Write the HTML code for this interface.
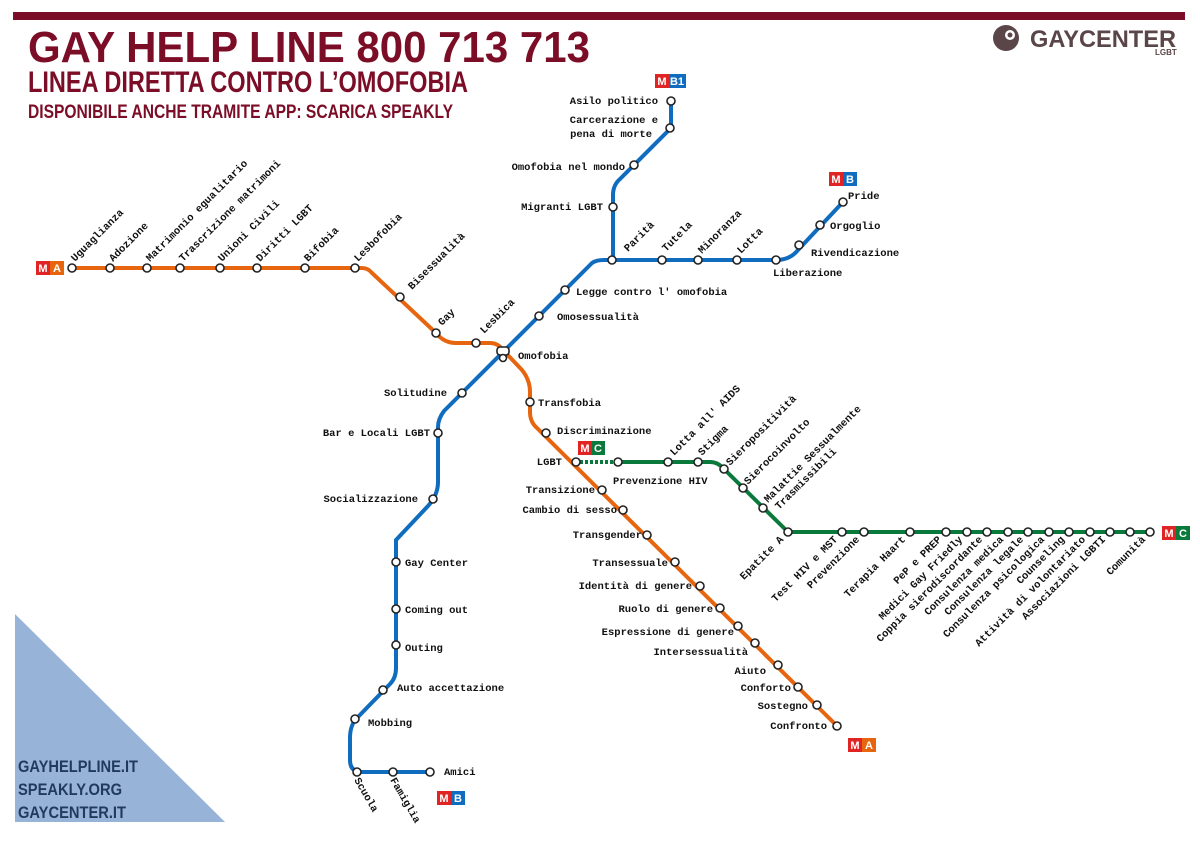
<!DOCTYPE html>
<html><head><meta charset="utf-8"><style>
html,body{margin:0;padding:0;background:#fff;}
svg{display:block}
.l{font-family:"Liberation Mono",monospace;font-size:10.5px;font-weight:bold;fill:#111;}
.e{text-anchor:end}
.h{font-family:"Liberation Sans Narrow","Liberation Sans",sans-serif;font-weight:bold;fill:#7b0d27;}
.s{fill:#fff;stroke:#222;stroke-width:1.6}
.bd{font-family:"Liberation Sans Narrow","Liberation Sans",sans-serif;font-weight:bold;font-size:11px;fill:#fff;text-anchor:middle}
</style></head><body>
<svg width="1200" height="842" viewBox="0 0 1200 842" xmlns="http://www.w3.org/2000/svg">
<rect x="13" y="12" width="1172" height="8" fill="#7b0d27"/>
<text class="h" x="28" y="62" font-size="44" textLength="562" lengthAdjust="spacingAndGlyphs">GAY HELP LINE 800 713 713</text>
<text class="h" x="28" y="92" font-size="30" textLength="440" lengthAdjust="spacingAndGlyphs">LINEA DIRETTA CONTRO L’OMOFOBIA</text>
<text class="h" x="28" y="118" font-size="19" textLength="425" lengthAdjust="spacingAndGlyphs">DISPONIBILE ANCHE TRAMITE APP: SCARICA SPEAKLY</text>
<!-- logo -->
<circle cx="1006" cy="38" r="13" fill="#5a4548"/>
<circle cx="1010" cy="35" r="5" fill="#fff"/><circle cx="1010" cy="35" r="2.5" fill="#5a4548"/>
<text x="1030" y="47" font-family="Liberation Sans" font-weight="900" font-size="24" fill="#5a4548" textLength="146" lengthAdjust="spacingAndGlyphs">GAYCENTER</text>
<text x="1155" y="55" font-family="Liberation Sans" font-weight="bold" font-size="8" fill="#5a4548">LGBT</text>
<!-- triangle -->
<polygon points="15,614 15,822 225,822" fill="#97b3d8"/>
<g font-family="Liberation Sans Narrow,Liberation Sans,sans-serif" font-weight="bold" font-size="17" fill="#1f3a5c">
<text x="18" y="772" textLength="120" lengthAdjust="spacingAndGlyphs">GAYHELPLINE.IT</text>
<text x="18" y="795" textLength="104" lengthAdjust="spacingAndGlyphs">SPEAKLY.ORG</text>
<text x="18" y="818" textLength="108" lengthAdjust="spacingAndGlyphs">GAYCENTER.IT</text>
</g>
<!-- lines -->
<g fill="none" stroke-width="4" stroke-linejoin="round">
<path stroke="#e8650f" d="M72,268 H362 Q368,268 372,273 L436,333 Q444,343 456,343 H490 Q498,343 503,350 L522,370 Q530,380 530,392 V412 Q530,422 537,428 L837,726"/>
<path stroke="#0f6cbf" d="M430,772 H362 Q350,772 350,760 V738 Q350,726 356,719 L390,684 Q396,678 396,668 V540 L428,506 Q438,495 438,482 V427 Q438,419 444,411 L592,263 Q596,260 604,260 H776 Q790,260 798,250 L843,202"/>
<path stroke="#0f6cbf" d="M613,260 V195 Q613,185 620,179 L671,128 V101"/>
<path stroke="#0a7a3c" d="M618,462 H710 Q718,462 724,469 L788,532 H1150"/>
<path stroke="#0a7a3c" stroke-dasharray="3,2" d="M580,462 H618"/>
</g>
<!-- stations -->
<g class="s">
<circle cx="72" cy="268" r="4"/><circle cx="110" cy="268" r="4"/><circle cx="147" cy="268" r="4"/><circle cx="180" cy="268" r="4"/><circle cx="220" cy="268" r="4"/><circle cx="257" cy="268" r="4"/><circle cx="305" cy="268" r="4"/><circle cx="355" cy="268" r="4"/>
<circle cx="400" cy="297" r="4"/><circle cx="436" cy="333" r="4"/><circle cx="476" cy="343" r="4"/>
<rect x="497" y="347" width="12" height="8" rx="3"/><circle cx="503" cy="358" r="3.5"/>
<circle cx="530" cy="402" r="4"/><circle cx="546" cy="433" r="4"/><circle cx="576" cy="462" r="4"/><circle cx="602" cy="490" r="4"/><circle cx="623" cy="510" r="4"/><circle cx="647" cy="535" r="4"/><circle cx="675" cy="562" r="4"/><circle cx="700" cy="586" r="4"/><circle cx="720" cy="608" r="4"/><circle cx="738" cy="626" r="4"/><circle cx="755" cy="643" r="4"/><circle cx="778" cy="665" r="4"/><circle cx="798" cy="687" r="4"/><circle cx="817" cy="705" r="4"/><circle cx="837" cy="726" r="4"/>
<circle cx="357" cy="772" r="4"/><circle cx="393" cy="772" r="4"/><circle cx="430" cy="772" r="4"/><circle cx="355" cy="719" r="4"/><circle cx="383" cy="690" r="4"/><circle cx="396" cy="645" r="4"/><circle cx="396" cy="609" r="4"/><circle cx="396" cy="562" r="4"/><circle cx="433" cy="499" r="4"/><circle cx="438" cy="433" r="4"/><circle cx="462" cy="393" r="4"/><circle cx="539" cy="316" r="4"/><circle cx="565" cy="290" r="4"/>
<circle cx="612" cy="260" r="4"/><circle cx="662" cy="260" r="4"/><circle cx="698" cy="260" r="4"/><circle cx="737" cy="260" r="4"/><circle cx="776" cy="260" r="4"/><circle cx="799" cy="245" r="4"/><circle cx="820" cy="225" r="4"/><circle cx="843" cy="202" r="4"/>
<circle cx="613" cy="207" r="4"/><circle cx="634" cy="165" r="4"/><circle cx="670" cy="128" r="4"/><circle cx="671" cy="101" r="4"/>
<circle cx="618" cy="462" r="4"/><circle cx="668" cy="462" r="4"/><circle cx="698" cy="462" r="4"/><circle cx="724" cy="469" r="4"/><circle cx="743" cy="488" r="4"/><circle cx="763" cy="508" r="4"/><circle cx="788" cy="532" r="4"/>
<circle cx="842" cy="532" r="4"/><circle cx="864" cy="532" r="4"/><circle cx="910" cy="532" r="4"/><circle cx="946" cy="532" r="4"/><circle cx="967" cy="532" r="4"/><circle cx="987" cy="532" r="4"/><circle cx="1008" cy="532" r="4"/><circle cx="1028" cy="532" r="4"/><circle cx="1049" cy="532" r="4"/><circle cx="1069" cy="532" r="4"/><circle cx="1090" cy="532" r="4"/><circle cx="1110" cy="532" r="4"/><circle cx="1130" cy="532" r="4"/><circle cx="1150" cy="532" r="4"/>
</g>
<!-- badges -->
<g>
<rect x="36" y="261" width="14" height="14" fill="#e02424"/><rect x="50" y="261" width="14" height="14" fill="#e8650f"/><text class="bd" x="43" y="272">M</text><text class="bd" x="57" y="272">A</text>
<rect x="848" y="738" width="14" height="14" fill="#e02424"/><rect x="862" y="738" width="14" height="14" fill="#e8650f"/><text class="bd" x="855" y="749">M</text><text class="bd" x="869" y="749">A</text>
<rect x="437" y="791" width="14" height="14" fill="#e02424"/><rect x="451" y="791" width="14" height="14" fill="#0f6cbf"/><text class="bd" x="444" y="802">M</text><text class="bd" x="458" y="802">B</text>
<rect x="829" y="172" width="14" height="14" fill="#e02424"/><rect x="843" y="172" width="14" height="14" fill="#0f6cbf"/><text class="bd" x="836" y="183">M</text><text class="bd" x="850" y="183">B</text>
<rect x="655" y="74" width="14" height="14" fill="#e02424"/><rect x="669" y="74" width="17" height="14" fill="#0f6cbf"/><text class="bd" x="662" y="85">M</text><text class="bd" x="677" y="85">B1</text>
<rect x="578" y="441" width="14" height="14" fill="#e02424"/><rect x="592" y="441" width="13" height="14" fill="#0a7a3c"/><text class="bd" x="585" y="452">M</text><text class="bd" x="598" y="452">C</text>
<rect x="1162" y="526" width="14" height="14" fill="#e02424"/><rect x="1176" y="526" width="14" height="14" fill="#0a7a3c"/><text class="bd" x="1169" y="537">M</text><text class="bd" x="1183" y="537">C</text>
</g>
<!-- labels -->
<g class="l">
<text transform="translate(75,262) rotate(-45)">Uguaglianza</text>
<text transform="translate(113,262) rotate(-45)">Adozione</text>
<text transform="translate(150,262) rotate(-45)">Matrimonio egualitario</text>
<text transform="translate(183,262) rotate(-45)">Trascrizione matrimoni</text>
<text transform="translate(222,262) rotate(-45)">Unioni Civili</text>
<text transform="translate(260,262) rotate(-45)">Diritti LGBT</text>
<text transform="translate(308,262) rotate(-45)">Bifobia</text>
<text transform="translate(358,262) rotate(-45)">Lesbofobia</text>
<text transform="translate(412,290) rotate(-45)">Bisessualità</text>
<text transform="translate(442,326) rotate(-45)">Gay</text>
<text transform="translate(484,334) rotate(-45)">Lesbica</text>
<text x="518" y="359">Omofobia</text>
<text x="538" y="406">Transfobia</text>
<text x="557" y="434">Discriminazione</text>
<text class="e" x="562" y="465">LGBT</text>
<text class="e" x="595" y="493">Transizione</text>
<text class="e" x="617" y="513">Cambio di sesso</text>
<text class="e" x="642" y="538">Transgender</text>
<text class="e" x="668" y="566">Transessuale</text>
<text class="e" x="692" y="589">Identità di genere</text>
<text class="e" x="713" y="612">Ruolo di genere</text>
<text class="e" x="734" y="635">Espressione di genere</text>
<text class="e" x="748" y="655">Intersessualità</text>
<text class="e" x="766" y="674">Aiuto</text>
<text class="e" x="791" y="691">Conforto</text>
<text class="e" x="808" y="709">Sostegno</text>
<text class="e" x="827" y="729">Confronto</text>
<text class="e" x="447" y="396">Solitudine</text>
<text class="e" x="430" y="436">Bar e Locali LGBT</text>
<text class="e" x="418" y="502">Socializzazione</text>
<text x="405" y="566">Gay Center</text>
<text x="405" y="613">Coming out</text>
<text x="405" y="651">Outing</text>
<text x="397" y="691">Auto accettazione</text>
<text x="368" y="726">Mobbing</text>
<text x="444" y="775">Amici</text>
<text transform="translate(354,780) rotate(60)">Scuola</text>
<text transform="translate(390,780) rotate(60)">Famiglia</text>
<text x="557" y="320">Omosessualità</text>
<text x="576" y="295">Legge contro l' omofobia</text>
<text transform="translate(628,252) rotate(-45)">Parità</text>
<text transform="translate(666,252) rotate(-45)">Tutela</text>
<text transform="translate(702,254) rotate(-45)">Minoranza</text>
<text transform="translate(741,254) rotate(-45)">Lotta</text>
<text x="773" y="276">Liberazione</text>
<text x="811" y="256">Rivendicazione</text>
<text x="830" y="229">Orgoglio</text>
<text x="848" y="199">Pride</text>
<text class="e" x="603" y="210">Migranti LGBT</text>
<text class="e" x="625" y="170">Omofobia nel mondo</text>
<text class="e" x="658" y="123">Carcerazione e</text>
<text class="e" x="652" y="137">pena di morte</text>
<text class="e" x="658" y="104">Asilo politico</text>
<text x="613" y="484">Prevenzione HIV</text>
<text transform="translate(674,456) rotate(-45)">Lotta all' AIDS</text>
<text transform="translate(702,456) rotate(-45)">Stigma</text>
<text transform="translate(730,466) rotate(-45)">Sieropositività</text>
<text transform="translate(748,485) rotate(-45)">Sierocoinvolto</text>
<text transform="translate(768,503) rotate(-45)">Malattie Sessualmente</text>
<text transform="translate(779,510) rotate(-45)">Trasmissibili</text>
<text class="e" transform="translate(784,540) rotate(-45)">Epatite A</text>
<text class="e" transform="translate(838,540) rotate(-45)">Test HIV e MST</text>
<text class="e" transform="translate(860,540) rotate(-45)">Prevenzione</text>
<text class="e" transform="translate(906,540) rotate(-45)">Terapia Haart</text>
<text class="e" transform="translate(942,540) rotate(-45)">PeP e PREP</text>
<text class="e" transform="translate(963,540) rotate(-45)">Medici Gay Friedly</text>
<text class="e" transform="translate(983,540) rotate(-45)">Coppia sierodiscordante</text>
<text class="e" transform="translate(1004,540) rotate(-45)">Consulenza medica</text>
<text class="e" transform="translate(1024,540) rotate(-45)">Consulenza legale</text>
<text class="e" transform="translate(1045,540) rotate(-45)">Consulenza psicologica</text>
<text class="e" transform="translate(1065,540) rotate(-45)">Counseling</text>
<text class="e" transform="translate(1086,540) rotate(-45)">Attività di volontariato</text>
<text class="e" transform="translate(1106,540) rotate(-45)">Associazioni LGBTI</text>
<text class="e" transform="translate(1146,540) rotate(-45)">Comunità</text>
</g>
</svg>
</body></html>
